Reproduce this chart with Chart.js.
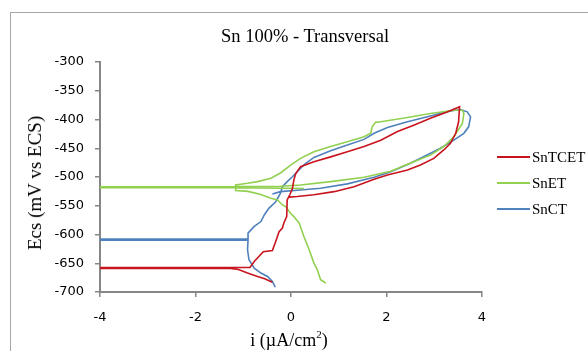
<!DOCTYPE html>
<html>
<head>
<meta charset="utf-8">
<script src="https://cdn.jsdelivr.net/npm/chart.js@4"></script>
<style>
  html, body { margin:0; padding:0; background:#fff; overflow:hidden; }
  #wrap { position:relative; width:588px; height:351px; }
  #frame { position:absolute; left:10px; top:12px; width:620px; height:400px; border:1px solid #a6a6a6; }
  canvas { position:absolute; left:0; top:0; }
  .txt { position:absolute; font-family:"Liberation Serif","Times New Roman",serif; color:#000; white-space:nowrap; }
  #title { left:305px; top:36px; transform:translate(-50%,-50%); font-size:18.5px; }
  #ytitle { left:35px; top:183px; transform:translate(-50%,-50%) rotate(-90deg); font-size:19px; }
  #xtitle { left:289px; top:340px; transform:translate(-50%,-50%); font-size:18px; }
  #xtitle sup { font-size:11px; vertical-align:top; position:relative; top:-2px; }
  .leg { position:absolute; left:497px; height:20px; font-family:"Liberation Serif","Times New Roman",serif; font-size:15px; }
  .leg i { position:absolute; left:0; top:9px; width:33px; height:2px; }
  .leg span { position:absolute; left:35px; top:0; line-height:20px; }
</style>
</head>
<body>
<div id="wrap">
  <div id="frame"></div>
  <canvas id="chart" width="588" height="351"></canvas>
  <div class="txt" id="title">Sn 100% - Transversal</div>
  <div class="txt" id="ytitle">Ecs (mV vs ECS)</div>
  <div class="txt" id="xtitle">i (µA/cm<sup>2</sup>)</div>
  <div id="legend"></div>
</div>
<script>
// === Datos ===
const seriesNames = ['SnTCET', 'SnET', 'SnCT'];
const seriesColors = ['#C8141E', '#92D050', '#4F81BD'];

const xTicks = [-4, -2, 0, 2, 4];
const yTicks = [-700, -650, -600, -550, -500, -450, -400, -350, -300];

// SnTCET
const snTcetI = [-0.39, -0.55, -0.70, -0.91, -1.10, -1.26, -4, -4, -0.86, -0.77, -0.58, -0.39, -0.32, -0.25, -0.18, -0.15, -0.09, -0.08, -0.02, 0.03, 0.06, 0.10, 0.20, 0.48, 0.83, 1.18, 1.53, 1.88, 2.23, 2.57, 2.92, 3.27, 3.53, 3.51, 3.45, 3.34, 3.20, 2.99, 2.71, 2.44, 2.02, 1.74, 1.32, 0.90, 0.48, 0.13, -0.04];
const snTcetE = [-683, -677, -673, -667, -661, -659, -659, -657.5, -657.5, -647, -630, -628, -612, -595, -589, -580, -569, -540, -530, -520, -505, -494, -482, -473.5, -465, -456, -447, -436, -421, -410, -398, -387, -378, -404, -424, -441.5, -453, -467.6, -479, -488, -496.5, -504, -517, -525.5, -531, -534, -535];

// SnET
const snEtI = [0.73, 0.62, 0.55, 0.48, 0.38, 0.27, 0.17, 0.05, -0.01, -0.11, -0.18, -0.28, -0.42, -0.65, -0.90, -1.16, -1.16, -0.91, -0.70, -0.42, -0.22, 0.00, 0.20, 0.48, 0.83, 1.18, 1.53, 1.67, 1.70, 1.77, 1.88, 2.44, 2.92, 3.41, 3.59, 3.62, 3.59, 3.41, 3.20, 2.92, 2.57, 2.09, 1.53, 0.83, 0.20, -0.22, -1.16, -4, -4, -1.16, 0.27];
const snEtE = [-684.4, -678.7, -661, -649.7, -626.6, -603.5, -580, -568, -563, -551.5, -548.6, -540, -537, -530, -525, -523.5, -514, -511, -508, -502, -493, -479, -467.6, -456, -447, -438.8, -430, -424, -412.7, -405, -404, -396.5, -389.5, -384, -384, -389.5, -407, -430, -447, -462, -473.5, -490, -500.5, -508, -514, -516, -516.5, -517, -518.5, -518.5, -520];

// SnCT
const snCtI = [-0.33, -0.39, -0.49, -0.63, -0.77, -0.88, -0.91, -0.90, -4, -4, -0.90, -0.90, -0.77, -0.63, -0.56, -0.46, -0.32, -0.22, -0.18, -0.08, 0.03, 0.13, 0.27, 0.48, 0.83, 1.18, 1.53, 1.74, 2.02, 2.44, 2.92, 3.34, 3.55, 3.69, 3.76, 3.72, 3.62, 3.41, 3.13, 2.85, 2.50, 2.09, 1.74, 1.18, 0.62, 0.20, -0.22, -0.39];
const snCtE = [-691.5, -681.6, -673, -667, -658.4, -644, -626.6, -610, -610, -608, -608, -597.6, -586, -577.5, -566, -554, -543, -528, -516.8, -508, -499.5, -490.8, -479, -466, -454.4, -444.5, -434.6, -424, -413.8, -404, -394, -385, -382.6, -386.7, -395.4, -412.7, -424, -435.8, -450, -461.8, -476, -490.8, -500.5, -512, -519.6, -522.5, -525.5, -529.5];

function pts(xs, ys){ return xs.map((x, i) => ({ x, y: ys[i] })); }

const seriesData = [pts(snTcetI, snTcetE), pts(snEtI, snEtE), pts(snCtI, snCtE)];

// Leyenda en HTML
const legendEl = document.getElementById('legend');
const legendY = [147, 173, 199];
seriesNames.forEach((name, i) => {
  const d = document.createElement('div');
  d.className = 'leg';
  d.style.top = legendY[i] + 'px';
  d.innerHTML = `<i style="background:${seriesColors[i]}"></i><span>${name}</span>`;
  legendEl.appendChild(d);
});

const axisGray = '#868686';
const tickFont = { family: 'DejaVu Sans', size: 13 };

new Chart(document.getElementById('chart'), {
  type: 'scatter',
  data: {
    datasets: seriesNames.map((name, i) => ({
      label: name,
      data: seriesData[i],
      showLine: true,
      borderColor: seriesColors[i],
      backgroundColor: seriesColors[i],
      borderWidth: 1.6,
      pointRadius: 0,
      tension: 0
    }))
  },
  options: {
    responsive: false,
    animation: false,
    layout: { padding: { left: 0, top: 62, right: 106, bottom: 0 } },
    plugins: { legend: { display: false }, title: { display: false }, tooltip: { enabled: false } },
    scales: {
      x: {
        type: 'linear', min: -4, max: 4,
        afterBuildTicks: s => { s.ticks = xTicks.map(v => ({ value: v })); },
        afterFit: s => { s.height = 59; },
        ticks: { font: tickFont, color: '#000', padding: 13, maxRotation: 0 },
        grid: { drawOnChartArea: false, tickLength: 5, color: axisGray, lineWidth: 1.5 },
        border: { color: axisGray, width: 2 }
      },
      y: {
        type: 'linear', min: -700, max: -300,
        afterBuildTicks: s => { s.ticks = yTicks.map(v => ({ value: v })); },
        afterFit: s => { s.width = 100; },
        ticks: { font: tickFont, color: '#000', padding: 11 },
        grid: { drawOnChartArea: false, tickLength: 5, color: axisGray, lineWidth: 1.5 },
        border: { color: axisGray, width: 2 }
      }
    }
  }
});
</script>
</body>
</html>
